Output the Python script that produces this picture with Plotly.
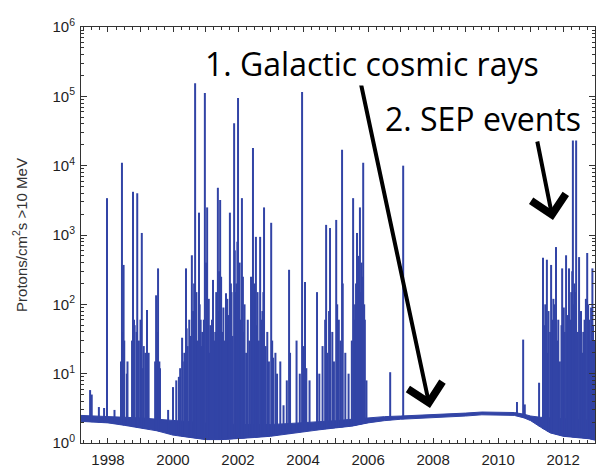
import numpy as np
import plotly.graph_objects as go

# ---- data ----
# background band (quiet-time flux): decimal year, lower and upper envelope
band_year = [1997.17, 1997.5, 1998.0, 1998.5, 1999.0, 1999.5, 2000.0, 2000.5, 2001.0,
             2001.5, 2002.0, 2002.5, 2003.0, 2003.5, 2004.0, 2004.5, 2005.0, 2005.5,
             2006.0, 2006.5, 2007.0, 2007.5, 2008.0, 2008.5, 2009.0, 2009.5, 2010.0,
             2010.5, 2010.8, 2011.0, 2011.3, 2011.6, 2012.0, 2012.4, 2012.8, 2012.98]
band_low = [2.05, 2.0, 1.95, 1.8, 1.65, 1.5, 1.3, 1.2, 1.12,
            1.12, 1.15, 1.2, 1.25, 1.35, 1.45, 1.55, 1.65, 1.75,
            1.95, 2.1, 2.2, 2.25, 2.3, 2.35, 2.45, 2.55, 2.55,
            2.5, 2.3, 2.1, 1.7, 1.4, 1.25, 1.2, 1.15, 1.1]
band_high = [2.5, 2.45, 2.4, 2.35, 2.3, 2.2, 2.1, 2.0, 1.95,
             1.9, 1.85, 1.85, 1.85, 1.9, 1.95, 2.0, 2.1, 2.2,
             2.3, 2.4, 2.45, 2.5, 2.55, 2.6, 2.7, 2.8, 2.8,
             2.75, 2.6, 2.45, 2.35, 2.3, 2.25, 2.2, 2.15, 2.1]

# SEP events: decimal year and peak flux
event_year = [1997.45, 1997.5, 1997.72, 1997.88, 1997.97, 1998.2, 1998.43, 1998.48, 1998.6,
              1998.77, 1998.9, 1999.04, 1999.2, 1999.48, 1999.54, 1999.85, 2000.0, 2000.18,
              2000.28, 2000.4, 2000.58, 2000.68, 2000.8, 2000.98, 2001.05, 2001.23, 2001.38,
              2001.45, 2001.63, 2001.75, 2001.88, 2002.0, 2002.12, 2002.4, 2002.46, 2002.55,
              2002.68, 2002.8, 2003.02, 2003.08, 2003.4, 2003.57, 2003.97, 2004.06, 2004.43,
              2004.71, 2004.83, 2005.02, 2005.2, 2005.54, 2005.66, 2005.75, 2005.85, 2006.68,
              2007.08, 2010.58, 2010.77, 2010.82, 2011.26, 2011.38, 2011.5, 2011.63, 2011.78,
              2011.97, 2012.09, 2012.18, 2012.3, 2012.4, 2012.49, 2012.74, 2012.9]
event_peak = [5.8, 5.0, 3.3, 3.2, 3400, 3.0, 11000, 370, 15,
              4200, 4000, 1070, 83, 135, 330, 3.0, 6.4, 9,
              33, 330, 510, 155000, 2100, 112000, 2500, 225, 4800,
              3200, 145, 2100, 41000, 95000, 3400, 250, 18000, 940,
              940, 2500, 1500, 17, 3.5, 315, 115000, 210, 150,
              1400, 1260, 1650, 17000, 3400, 1070, 2500, 11000, 10.5,
              10000, 3.9, 31, 3.6, 7.4, 470, 440, 370, 670,
              330, 510, 330, 30000, 25000, 480, 550, 330]

# smaller flux enhancements filling the active years
minor_year = [1998.4, 1998.45, 1998.5, 1998.58, 1998.74, 1998.8, 1998.82, 1998.88, 1998.92,
              1998.95, 1999.0, 1999.08, 1999.1, 1999.15, 1999.25, 1999.45, 1999.52, 1999.58,
              1999.6, 2000.1, 2000.22, 2000.3, 2000.35, 2000.42, 2000.45, 2000.5, 2000.55,
              2000.62, 2000.65, 2000.72, 2000.75, 2000.82, 2000.85, 2000.88, 2000.9, 2000.95,
              2001.02, 2001.08, 2001.1, 2001.12, 2001.15, 2001.2, 2001.27, 2001.3, 2001.33,
              2001.4, 2001.42, 2001.48, 2001.52, 2001.55, 2001.6, 2001.67, 2001.7, 2001.72,
              2001.78, 2001.8, 2001.83, 2001.9, 2001.93, 2001.95, 2001.98, 2002.03, 2002.05,
              2002.08, 2002.15, 2002.18, 2002.2, 2002.25, 2002.3, 2002.35, 2002.43, 2002.5,
              2002.58, 2002.6, 2002.64, 2002.72, 2002.75, 2002.78, 2002.85, 2002.9, 2002.95,
              2003.05, 2003.15, 2003.2, 2003.3, 2003.5, 2003.6, 2003.8, 2003.9, 2004.0,
              2004.1, 2004.2, 2004.5, 2004.6, 2004.68, 2004.75, 2004.8, 2004.9, 2004.95,
              2005.05, 2005.1, 2005.15, 2005.22, 2005.3, 2005.4, 2005.5, 2005.58, 2005.6,
              2005.63, 2005.68, 2005.7, 2005.72, 2005.78, 2005.8, 2005.82, 2005.88, 2005.9,
              2005.95, 2011.4, 2011.42, 2011.45, 2011.53, 2011.55, 2011.6, 2011.66, 2011.7,
              2011.75, 2011.82, 2011.85, 2011.9, 2011.95, 2012.02, 2012.05, 2012.12, 2012.15,
              2012.22, 2012.25, 2012.28, 2012.32, 2012.35, 2012.38, 2012.45, 2012.52, 2012.55,
              2012.58, 2012.62, 2012.66, 2012.7, 2012.77, 2012.8, 2012.84, 2012.86, 2012.92,
              2012.95]
minor_peak = [15, 40, 30, 10, 30, 60, 50, 40, 20,
              30, 60, 12, 25, 20, 20, 15, 40, 15,
              12, 8, 12, 15, 20, 45, 25, 60, 35,
              80, 200, 150, 30, 100, 60, 25, 40, 60,
              400, 45, 120, 20, 50, 60, 30, 40, 150,
              80, 300, 250, 40, 90, 30, 120, 70, 50,
              200, 150, 35, 600, 150, 200, 800, 120, 400,
              60, 250, 40, 100, 20, 60, 30, 100, 200,
              50, 150, 30, 60, 80, 150, 25, 40, 15,
              30, 20, 10, 15, 8, 20, 30, 10, 25,
              12, 8, 10, 25, 60, 20, 80, 40, 15,
              100, 60, 30, 200, 20, 10, 30, 60, 100,
              200, 80, 300, 500, 150, 400, 250, 100, 60,
              8, 30, 50, 100, 20, 80, 40, 60, 120,
              100, 30, 60, 15, 50, 90, 40, 70, 25,
              60, 150, 300, 100, 200, 150, 40, 30, 80,
              20, 40, 60, 120, 100, 60, 30, 90, 50,
              30]

y_tick_vals = [1, 10, 100, 1000, 1e4, 1e5, 1e6]
y_tick_text = ["10<sup>0</sup>", "10<sup>1</sup>", "10<sup>2</sup>", "10<sup>3</sup>",
               "10<sup>4</sup>", "10<sup>5</sup>", "10<sup>6</sup>"]
x_tick_vals = list(range(1998, 2013))
x_tick_text = [str(y) if y % 2 == 0 else "" for y in x_tick_vals]

BLUE = "#3244a6"

# ---- build spike segments from the event lists ----
def spikes(years, peaks):
    xs, ys = [], []
    for t, p in zip(years, peaks):
        b = float(np.interp(t, band_year, band_low))
        xs += [t, t, None]
        ys += [b, p, None]
    return xs, ys

sx, sy = spikes(event_year, event_peak)
mx, my = spikes(minor_year, minor_peak)

fig = go.Figure()
fig.add_trace(go.Scatter(x=band_year, y=band_low, mode="lines",
                         line=dict(color=BLUE, width=1), hoverinfo="skip"))
fig.add_trace(go.Scatter(x=band_year, y=band_high, mode="lines", fill="tonexty",
                         fillcolor=BLUE, line=dict(color=BLUE, width=1), hoverinfo="skip"))
fig.add_trace(go.Scatter(x=mx, y=my, mode="lines",
                         line=dict(color=BLUE, width=2)))
fig.add_trace(go.Scatter(x=sx, y=sy, mode="lines",
                         line=dict(color=BLUE, width=2)))

axis_font = dict(family="Liberation Sans, Arial, sans-serif", size=15, color="#1e1e1e")

fig.update_layout(
    width=603, height=469,
    margin=dict(l=81, r=8, t=27, b=26, autoexpand=False),
    paper_bgcolor="white", plot_bgcolor="white",
    showlegend=False,
    xaxis=dict(range=[1997.17, 2012.98], tickmode="array", tickvals=x_tick_vals,
               ticktext=x_tick_text, ticks="inside", ticklen=5, tickcolor="#333",
               showline=True, linecolor="#333", linewidth=1, mirror="ticks",
               showgrid=False, zeroline=False, tickfont=axis_font, ticklabelstandoff=3,
               automargin=False,
               minor=dict(dtick=0.25, tick0=1998, ticks="inside", ticklen=3,
                          tickcolor="#333", showgrid=False)),
    yaxis=dict(type="log", range=[0, 6], tickmode="array", tickvals=y_tick_vals,
               ticktext=y_tick_text, ticks="inside", ticklen=6, tickcolor="#333",
               showline=True, linecolor="#333", linewidth=1, mirror="ticks",
               showgrid=False, zeroline=False, tickfont=axis_font, ticklabelstandoff=2,
               automargin=False,
               title=dict(text="Protons/cm<sup>2</sup>s >10 MeV",
                          font=dict(family="Liberation Sans, Arial, sans-serif",
                                    size=15, color="#333"), standoff=21),
               minor=dict(ticks="inside", ticklen=3, tickcolor="#333", showgrid=False,
                          tickmode="array",
                          tickvals=[m * 10 ** k for k in range(0, 6) for m in range(2, 10)])),
)

# arrows first so the white text boxes sit on top of their tails
fig.add_annotation(xref="paper", yref="paper", x=(430 - 81) / 514, y=(443 - 408) / 416,
                   ax=358 - 430, ay=70 - 408, text="", showarrow=True,
                   arrowhead=4, arrowwidth=4, arrowsize=1.7, arrowcolor="black")
fig.add_annotation(xref="paper", yref="paper", x=(553 - 81) / 514, y=(443 - 220) / 416,
                   ax=537 - 553, ay=140 - 220, text="", showarrow=True,
                   arrowhead=4, arrowwidth=4, arrowsize=1.7, arrowcolor="black")

txt_font = dict(family="Open Sans, Noto Sans, sans-serif", size=32, color="black")
fig.add_annotation(xref="paper", yref="paper", x=(372 - 81) / 514, y=(443 - 63) / 416,
                   xanchor="center", yanchor="middle",
                   text="1. Galactic cosmic rays", showarrow=False, font=txt_font,
                   bgcolor="white", borderpad=0)
fig.add_annotation(xref="paper", yref="paper", x=(483 - 81) / 514, y=(443 - 118) / 416,
                   xanchor="center", yanchor="middle",
                   text="2. SEP events", showarrow=False, font=txt_font,
                   bgcolor="white", borderpad=0)

fig.write_html("out.html")
